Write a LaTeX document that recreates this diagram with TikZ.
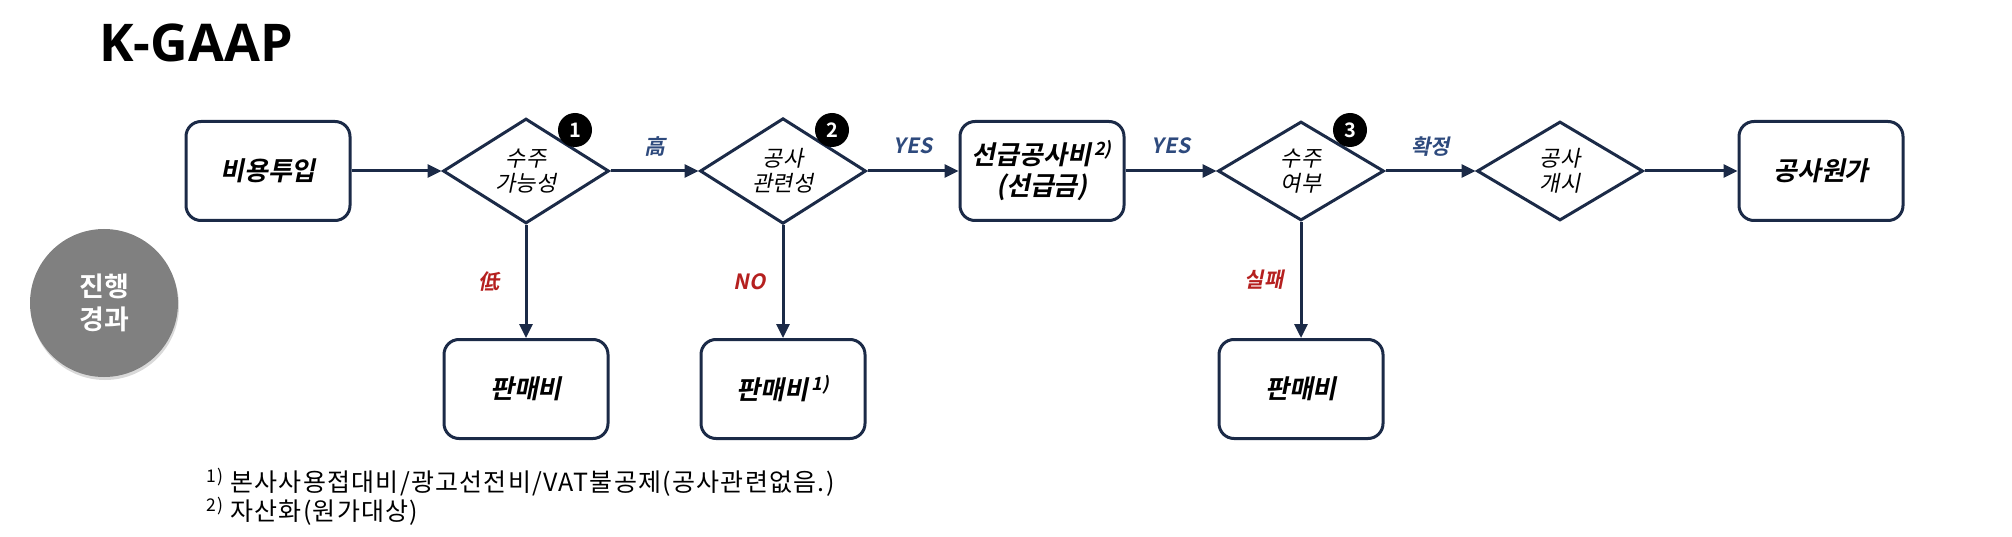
\documentclass[tikz,border=0pt]{standalone}
\usepackage{fontspec}
\setmainfont{Noto Sans CJK KR}[
    BoldFont={Noto Sans CJK KR Bold},
    ItalicFont={Noto Sans CJK KR},
    ItalicFeatures={FakeSlant=0.2},
    BoldItalicFont={Noto Sans CJK KR Bold},
    BoldItalicFeatures={FakeSlant=0.2}]
\newfontfamily\titlefont{Open Sans}
\newfontfamily\notefont{Noto Sans CJK KR}[LetterSpace=5]
\usetikzlibrary{arrows.meta,
    shapes.geometric,
    shadows}

\definecolor{flownavy}{RGB}{27,42,71}
\definecolor{yesblue}{RGB}{46,74,125}
\definecolor{nored}{RGB}{181,32,31}
\definecolor{stagegray}{RGB}{128,128,128}

\begin{document}
\begin{tikzpicture}[x=1pt, y=-1pt,
    procbox/.style={draw=flownavy, line width=3pt, rounded corners=15pt,
        minimum width=164pt, minimum height=99pt, inner sep=0pt, align=center,
        font=\bfseries\itshape\fontsize{26}{31}\selectfont},
    decision/.style={diamond, draw=flownavy, line width=3pt,
        minimum width=166pt, minimum height=99pt, inner sep=0pt, align=center,
        font=\itshape\fontsize{22}{25}\selectfont},
    badge/.style={circle, fill=black, text=white, minimum size=34pt,
        inner sep=0pt, font=\bfseries\fontsize{20}{20}\selectfont},
    flow/.style={draw=flownavy, line width=3pt,
        -{Triangle[length=14pt, width=13pt]}},
    yeslabel/.style={text=yesblue, inner sep=0pt,
        font=\bfseries\itshape\fontsize{21}{21}\selectfont},
    nolabel/.style={text=nored, inner sep=0pt,
        font=\bfseries\itshape\fontsize{21}{21}\selectfont}]
    \useasboundingbox (0,0) rectangle (2012,537);
    \node[font=\titlefont\bfseries\fontsize{52}{52}\selectfont] (title) at (196,43) {K-GAAP};
    \node[circle, fill=stagegray, minimum size=148pt, inner sep=0pt, align=center,
        drop shadow={opacity=0.3, shadow xshift=1pt, shadow yshift=-3pt},
        text=white, font=\bfseries\fontsize{27}{33}\selectfont] (stage) at (104,303) {진행\\경과};
    % main row
    \node[procbox] (input) at (268,171) {비용투입};
    \node[decision] (order) at (526,171) {수주\\가능성};
    \node[decision] (related) at (783,171) {공사\\관련성};
    \node[procbox] (advance) at (1042,171) {선급공사비\kern3pt\textsuperscript{2)}\\(선급금)};
    \node[decision] (won) at (1301,171) {수주\\여부};
    \node[decision] (start) at (1560,171) {공사\\개시};
    \node[procbox] (cost) at (1821,171) {공사원가};
    % expense boxes
    \node[procbox] (sellA) at (526,389) {판매비};
    \node[procbox] (sellB) at (783,389) {판매비\kern3pt\textsuperscript{1)}};
    \node[procbox] (sellC) at (1301,389) {판매비};
    % step numbers
    \node[badge] (stepA) at (575,130) {1};
    \node[badge] (stepB) at (832,130) {2};
    \node[badge] (stepC) at (1350,130) {3};
    \draw[flow] (input) -- (order);
    \draw[flow] (order) -- node[yeslabel, above=13pt] {高} (related);
    \draw[flow] (related) -- node[yeslabel, above=16pt] {YES} (advance);
    \draw[flow] (advance) -- node[yeslabel, above=16pt] {YES} (won);
    \draw[flow] (won) -- node[yeslabel, above=13pt] {확정} (start);
    \draw[flow] (start) -- (cost);
    \draw[flow] (order) -- node[nolabel, left=25pt] {低} (sellA);
    \draw[flow] (related) -- node[nolabel, left=16pt] {NO} (sellB);
    \draw[flow] (won) -- node[nolabel, left=16pt] {실패} (sellC);
    \node[anchor=west, align=left, font=\notefont\fontsize{25}{29}\selectfont] (notes) at (203,497)
        {\textsuperscript{1)} 본사사용접대비/광고선전비/VAT불공제(공사관련없음.)\\
         \textsuperscript{2)} 자산화(원가대상)};
\end{tikzpicture}
\end{document}
